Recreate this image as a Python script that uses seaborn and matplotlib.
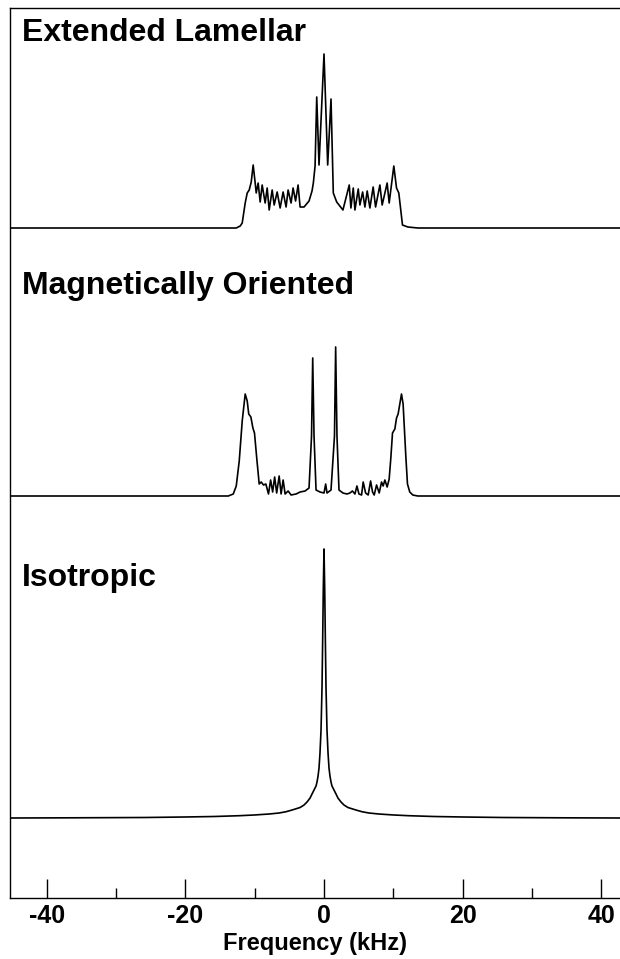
import matplotlib
matplotlib.use("Agg")
import matplotlib.pyplot as plt
import seaborn as sns
import numpy as np
import pandas as pd
from matplotlib.ticker import MultipleLocator

# ---------------- data (frequency in kHz, intensity in a.u.) ----------------
lamellar_freq = [-45.3, -12.66, -12.09, -11.80, -11.37, -11.08, -10.79, -10.50, -10.22, -9.93,
                 -9.78, -9.50, -9.21, -8.92, -8.49, -8.20, -7.91, -7.48, -7.19, -6.76,
                 -6.33, -5.90, -5.47, -5.18, -4.75, -4.46, -4.10, -3.74, -3.45, -2.88,
                 -2.16, -1.73, -1.54, -1.29, -1.05, -0.72, 0.0, 0.53, 1.01, 1.34,
                 1.83, 2.73, 3.64, 3.88, 4.22, 4.46, 4.94, 5.18, 5.57, 5.90,
                 6.23, 6.62, 7.09, 7.44, 8.06, 8.39, 9.11, 9.40, 10.07, 10.46,
                 10.79, 11.32, 12.09, 13.53, 42.7]
lamellar_int = [0, 0, 2, 5, 25, 35, 38, 46, 63, 45,
                35, 45, 26, 43, 25, 40, 18, 38, 23, 36,
                20, 36, 21, 38, 25, 40, 27, 43, 21, 21,
                27, 37, 45, 62, 131, 63, 174, 63, 129, 35,
                26, 18, 43, 20, 40, 18, 39, 23, 36, 21,
                37, 20, 41, 21, 43, 23, 45, 25, 62, 40,
                35, 3, 1, 0, 0]

oriented_freq = [-45.3, -13.81, -13.09, -12.66, -12.23, -11.80, -11.37, -11.08, -10.86, -10.55,
                 -10.26, -10.03, -9.68, -9.35, -9.06, -8.73, -8.39, -8.01, -7.70, -7.41,
                 -7.12, -6.83, -6.47, -6.19, -5.90, -5.61, -5.18, -4.75, -4.03, -3.45,
                 -2.73, -2.16, -1.80, -1.63, -1.44, -1.15, -0.58, 0.0, 0.24, 0.43,
                 1.01, 1.51, 1.68, 1.87, 2.16, 2.73, 3.31, 3.74, 4.10, 4.46,
                 4.75, 5.04, 5.42, 5.65, 6.00, 6.37, 6.72, 7.00, 7.24, 7.58,
                 7.96, 8.30, 8.53, 8.78, 9.11, 9.40, 9.64, 9.88, 10.22, 10.46,
                 10.69, 11.18, 11.41, 11.80, 12.04, 12.37, 12.81, 13.53, 42.7]
oriented_int = [0, 0, 2, 10, 35, 75, 102, 95, 82, 79,
                68, 63, 36, 12, 14, 11, 12, 2, 16, 4,
                19, 3, 20, 2, 16, 2, 5, 1, 2, 4,
                5, 8, 60, 138, 60, 6, 4, 3, 12, 3,
                6, 60, 149, 60, 6, 3, 2, 3, 5, 2,
                10, 2, 1, 14, 3, 1, 15, 4, 1, 11,
                3, 14, 10, 16, 9, 17, 38, 63, 67, 78,
                82, 102, 92, 40, 12, 4, 1, 0, 0]

isotropic_freq = [-45.3, -36.0, -25.9, -20.1, -15.83, -12.2, -10.07, -7.91, -6.47, -5.47,
                  -4.60, -3.45, -2.88, -2.45, -2.01, -1.73, -1.44, -1.15, -1.01, -0.86,
                  -0.72, -0.58, -0.43, -0.29, -0.19, -0.10, 0.0, 0.10, 0.19, 0.29,
                  0.43, 0.58, 0.72, 0.86, 1.01, 1.15, 1.44, 1.73, 2.01, 2.45,
                  2.88, 3.45, 4.60, 5.47, 6.47, 7.91, 10.07, 12.2, 15.83, 20.1,
                  25.9, 34.0, 42.7]
isotropic_int = [0, 0.2, 0.5, 1.0, 1.5, 2.3, 3, 4, 5, 6.3,
                 8, 10.5, 13, 16, 20, 24, 28, 32, 36, 42,
                 50, 65, 88, 130, 180, 230, 269, 230, 180, 130,
                 88, 65, 50, 42, 36, 32, 28, 24, 20, 16,
                 13, 10.5, 8, 6.3, 5, 4, 3, 2.3, 1.5, 1.0,
                 0.5, 0.2, 0]

labels = ["Extended Lamellar", "Magnetically Oriented", "Isotropic"]
x_ticks_major = [-40, -20, 0, 20, 40]
x_label = "Frequency (kHz)"

# ---------------- figure ----------------
sns.set_theme(style="white")
plt.rcParams["font.family"] = ["Liberation Sans", "DejaVu Sans"]
plt.rcParams["text.color"] = "black"
plt.rcParams["axes.labelcolor"] = "black"
plt.rcParams["xtick.color"] = "black"
plt.rcParams["ytick.color"] = "black"

W, H = 620, 959
fig = plt.figure(figsize=(W / 100, H / 100), dpi=100)
ax = fig.add_axes([10 / W, 61 / H, 1 - 10 / W, 890 / H])

offsets = [670, 402, 80]
series = [(lamellar_freq, lamellar_int), (oriented_freq, oriented_int),
          (isotropic_freq, isotropic_int)]
for (fx, fy), off in zip(series, offsets):
    df = pd.DataFrame({"freq": fx, "int": np.asarray(fy, dtype=float) + off})
    sns.lineplot(data=df, x="freq", y="int", ax=ax, color="black", lw=1.2,
                 estimator=None, sort=False)

text_y = [865, 612, 320]
for lab, ty in zip(labels, text_y):
    ax.text(-43.6, ty, lab, fontsize=23, fontweight="bold", va="center", ha="left",
            color="black")

ax.set_xlim(-45.3, 42.7)
ax.set_ylim(0, 890)
ax.set_yticks([])
ax.xaxis.set_minor_locator(MultipleLocator(10))
ax.set_xticks(x_ticks_major)
ax.set_xticklabels([str(t) for t in x_ticks_major], fontsize=18, fontweight="bold",
                   color="black")
ax.tick_params(axis="x", which="major", direction="in", length=14, width=1.0,
               bottom=True, top=False, color="black", labelcolor="black", pad=4)
ax.tick_params(axis="x", which="minor", direction="in", length=7, width=1.0,
               bottom=True, top=False, color="black")
ax.set_xlabel(x_label, fontsize=17, fontweight="bold", labelpad=3, color="black")
ax.set_ylabel("")

for side in ["left", "top", "bottom"]:
    ax.spines[side].set_visible(True)
    ax.spines[side].set_color("black")
    ax.spines[side].set_linewidth(1.0)
ax.spines["right"].set_visible(False)
ax.grid(False)

fig.savefig("out.png", dpi=100, facecolor="white")
